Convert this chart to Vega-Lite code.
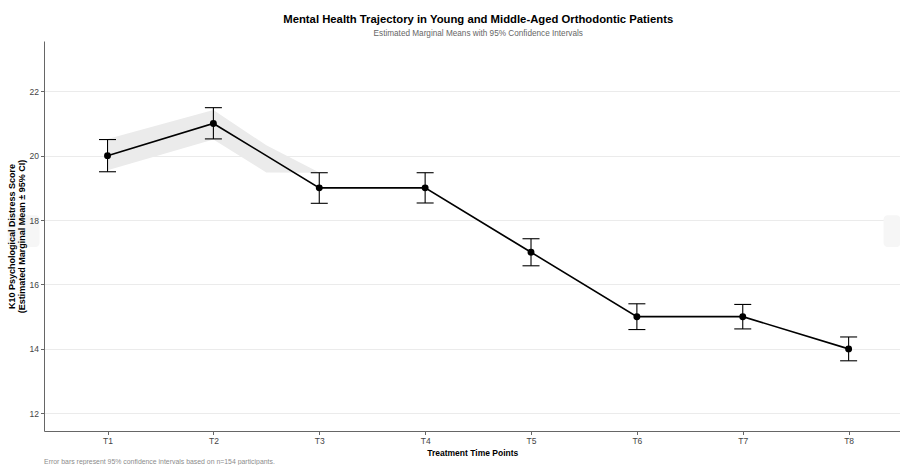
{
  "$schema": "https://vega.github.io/schema/vega-lite/v6.json",
  "background": "white",
  "padding": {"left": 7, "top": 13, "right": 0, "bottom": 0},
  "config": {
    "font": "Liberation Sans",
    "view": {"stroke": null},
    "axis": {
      "domainColor": "#666666",
      "domainWidth": 1,
      "tickColor": "#666666",
      "tickWidth": 1,
      "tickSize": 3.5,
      "labelColor": "#444444",
      "labelFontSize": 8.5,
      "labelPadding": 2,
      "titleColor": "#000000",
      "titleFontSize": 9,
      "titleFontWeight": "bold",
      "gridColor": "#ebebeb",
      "gridWidth": 1
    }
  },
  "datasets": {
    "emm": [
      {"tp": 1, "mean": 20, "lower": 19.5, "upper": 20.5},
      {"tp": 2, "mean": 21, "lower": 20.52, "upper": 21.49},
      {"tp": 3, "mean": 19, "lower": 18.52, "upper": 19.47},
      {"tp": 4, "mean": 19, "lower": 18.53, "upper": 19.47},
      {"tp": 5, "mean": 17, "lower": 16.58, "upper": 17.42},
      {"tp": 6, "mean": 15, "lower": 14.6, "upper": 15.4},
      {"tp": 7, "mean": 15, "lower": 14.62, "upper": 15.38},
      {"tp": 8, "mean": 14, "lower": 13.63, "upper": 14.37}
    ],
    "band": [
      {"tp": 1, "lo": 19.55, "hi": 20.52},
      {"tp": 2, "lo": 20.5, "hi": 21.42},
      {"tp": 2.5, "lo": 19.48, "hi": 20.32},
      {"tp": 3, "lo": 19.47, "hi": 19.48}
    ],
    "boxes": [
      {"x1": 0.056, "x2": 0.358, "y1": 17.16, "y2": 18.15},
      {"x1": 8.33, "x2": 8.49, "y1": 17.16, "y2": 18.15}
    ]
  },
  "title": {
    "text": "Error bars represent 95% confidence intervals based on n=154 participants.",
    "orient": "bottom",
    "anchor": "start",
    "frame": "bounds",
    "dx": 37,
    "offset": 2,
    "fontSize": 6.9,
    "fontWeight": "normal",
    "color": "#8c8c8c"
  },
  "vconcat": [
    {
      "width": 856.5,
      "height": 390,
      "title": {
        "text": "Mental Health Trajectory in Young and Middle-Aged Orthodontic Patients",
        "subtitle": "Estimated Marginal Means with 95% Confidence Intervals",
        "anchor": "middle",
        "frame": "group",
        "dx": 6,
        "offset": 4,
        "fontSize": 11.3,
        "fontWeight": "bold",
        "color": "#000000",
        "subtitleFontSize": 8.2,
        "subtitleColor": "#666666",
        "subtitlePadding": 5
      },
      "resolve": {"axis": {"y": "independent"}},
      "layer": [
        {
          "data": {"name": "boxes"},
          "mark": {"type": "rect", "fill": "#f6f6f6", "cornerRadius": 4},
          "encoding": {
            "x": {
              "field": "x1", "type": "quantitative",
              "scale": {"domain": [0.4, 8.49], "nice": false, "zero": false},
              "axis": {"values": [1, 2, 3, 4, 5, 6, 7, 8], "labelExpr": "'T' + datum.value", "grid": false, "zindex": 1, "title": "Treatment Time Points", "titlePadding": 3, "titleFontSize": 8.5},
              "title": "Treatment Time Points"
            },
            "x2": {"field": "x2"},
            "y": {
              "field": "y1", "type": "quantitative",
              "scale": {"domain": [11.45, 23.56], "nice": false, "zero": false},
              "axis": {"orient": "left", "values": [12, 14, 16, 18, 20, 22], "grid": true, "labels": false, "ticks": false, "domain": false, "title": null, "zindex": 0}
            },
            "y2": {"field": "y2"}
          }
        },
        {
          "data": {"name": "band"},
          "mark": {"type": "area", "fill": "#ebebeb", "opacity": 1},
          "encoding": {
            "x": {"field": "tp", "type": "quantitative", "title": "Treatment Time Points"},
            "y": {
              "field": "lo", "type": "quantitative",
              "axis": {"orient": "left", "values": [12, 14, 16, 18, 20, 22], "grid": false, "zindex": 1, "title": ["K10 Psychological Distress Score", "(Estimated Marginal Mean ± 95% CI)"], "titlePadding": 3, "titleLineHeight": 10}
            },
            "y2": {"field": "hi"}
          }
        },
        {
          "data": {"name": "emm"},
          "mark": {"type": "line", "color": "#000000", "strokeWidth": 1.6},
          "encoding": {
            "x": {"field": "tp", "type": "quantitative", "title": "Treatment Time Points"},
            "y": {"field": "mean", "type": "quantitative", "axis": null}
          }
        },
        {
          "data": {"name": "emm"},
          "mark": {"type": "rule", "color": "#000000", "strokeWidth": 1.1},
          "encoding": {
            "x": {"field": "tp", "type": "quantitative", "title": "Treatment Time Points"},
            "y": {"field": "lower", "type": "quantitative", "axis": null},
            "y2": {"field": "upper"}
          }
        },
        {
          "data": {"name": "emm"},
          "mark": {"type": "tick", "orient": "horizontal", "color": "#000000", "size": 17, "thickness": 1.1, "opacity": 1},
          "encoding": {
            "x": {"field": "tp", "type": "quantitative", "title": "Treatment Time Points"},
            "y": {"field": "upper", "type": "quantitative", "axis": null}
          }
        },
        {
          "data": {"name": "emm"},
          "mark": {"type": "tick", "orient": "horizontal", "color": "#000000", "size": 17, "thickness": 1.1, "opacity": 1},
          "encoding": {
            "x": {"field": "tp", "type": "quantitative", "title": "Treatment Time Points"},
            "y": {"field": "lower", "type": "quantitative", "axis": null}
          }
        },
        {
          "data": {"name": "emm"},
          "mark": {"type": "circle", "color": "#000000", "size": 48, "opacity": 1},
          "encoding": {
            "x": {"field": "tp", "type": "quantitative", "title": "Treatment Time Points"},
            "y": {"field": "mean", "type": "quantitative", "axis": null}
          }
        }
      ]
    }
  ]
}
